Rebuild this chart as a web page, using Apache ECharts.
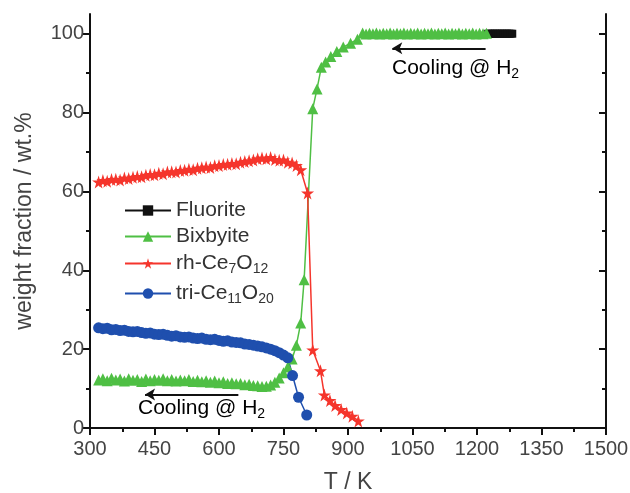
<!DOCTYPE html>
<html>
<head>
<meta charset="utf-8">
<script src="https://cdn.jsdelivr.net/npm/echarts@6/dist/echarts.min.js"></script>
<style>
  html, body { margin: 0; padding: 0; background: #fff; }
  #main { width: 630px; height: 493px; }
</style>
</head>
<body>
<div id="main"></div>
<script>
// temperatures (K) of the dense cooling scans
var coolT = [320,330,340,350,360,370,380,390,400,410,420,430,440,450,460,470,480,490,500,510,
  520,530,540,550,560,570,580,590,600,610,620,630,640,650,660,670,680,690,700,710,
  720,730,740,750,760,770,780,790];

var redCool = [62.4,62.8,62.6,63.0,63.1,62.9,63.4,63.3,63.6,63.8,
  63.7,64.1,64.3,64.2,64.6,64.5,64.9,65.0,64.9,65.3,
  65.4,65.6,65.5,65.9,66.0,66.2,66.1,66.5,66.6,66.8,
  66.9,67.1,67.0,67.4,67.6,67.8,68.0,68.3,68.5,68.3,
  68.6,68.1,67.9,68.0,67.4,67.2,66.6,65.5];
var redTailT = [806,818,836,845,858,870,884,897,910,924];
var redTail = [59.6,19.8,14.5,8.4,7.0,5.7,4.7,3.8,3.0,1.8];

var greenCool = [12.2,12.5,12.0,12.6,12.2,12.4,11.9,12.5,12.1,12.3,
  11.8,12.4,12.0,12.3,12.1,12.5,12.0,12.3,11.9,12.2,
  12.0,12.3,11.8,12.1,11.7,12.0,11.6,11.9,11.5,11.7,
  11.3,11.5,11.2,11.3,11.0,11.1,10.8,10.7,10.5,10.6,
  10.9,11.6,12.7,14.0,15.5,17.5,21.0,26.6];
var greenRiseT = [798,818,828,838,848,860,874,889,906,922];
var greenRise = [37.6,81.0,86.0,91.5,92.8,94.2,95.5,96.6,97.6,98.6];
var plateauT = [934,942,950,958,966,974,982,990,998,1006,1014,1022,1030,1038,1046,1054,1062,1070,
  1078,1086,1094,1102,1110,1118,1126,1134,1142,1150,1158,1166,1174,1182,1190,1198,1206,1214,1222];
var plateau = [100.2,99.9,100.1,100.0,100.2,99.9,100.1,100.0,100.2,99.9,100.1,100.0,100.2,99.9,100.1,100.0,100.2,99.9,
  100.1,100.0,100.2,99.9,100.1,100.0,100.2,99.9,100.1,100.0,100.2,99.9,100.1,100.0,100.2,99.9,100.1,100.0,100.1];

var blueT = [320,330,340,350,360,370,380,390,400,410,420,430,440,450,460,470,480,490,500,510,
  520,530,540,550,560,570,580,590,600,610,620,630,640,650,660,670,680,690,700,710,
  720,730,740,750,760,771,785,804];
var blue = [25.4,25.2,25.3,24.9,25.0,24.7,24.8,24.5,24.4,24.5,
  24.2,24.0,24.1,23.8,23.7,23.8,23.5,23.3,23.4,23.1,
  23.0,23.1,22.8,22.7,22.8,22.5,22.4,22.5,22.2,22.0,
  22.1,21.8,21.7,21.6,21.3,21.2,21.0,20.8,20.6,20.3,
  20.0,19.6,19.1,18.5,17.8,13.3,7.8,3.3];

var fluoriteT = [1226,1230,1234,1238,1242,1246,1250,1254,1258,1262,1266,1270,1274,1278,1282];
var fluorite = [100,100,100,100,100,100,100,100,100,100,100,100,100,100,100];

var yMajor = [0,20,40,60,80,100];
var yMinor = [10,30,50,70,90];

function zip(xs, ys) {
  return xs.map(function (x, i) { return [x, ys[i]]; });
}

var star = 'path://M50,0 L61,35 L98,35 L68,57 L79,91 L50,70 L21,91 L32,57 L2,35 L39,35 Z';
var FONT = 'Liberation Sans';
var GREEN = '#4fbf44', RED = '#f5352c', BLUE = '#1f4fae';

var rich = {
  b: { fontSize: 21, fontFamily: FONT, color: '#333', lineHeight: 26 },
  s: { fontSize: 14, fontFamily: FONT, color: '#333', lineHeight: 10, verticalAlign: 'bottom' }
};
var legendNames = {
  'Fluorite': '{b|Fluorite}',
  'Bixbyite': '{b|Bixbyite}',
  'rh-Ce7O12': '{b|rh-Ce}{s|7}{b|O}{s|12}',
  'tri-Ce11O20': '{b|tri-Ce}{s|11}{b|O}{s|20}'
};
function legendAt(name, top) {
  return {
    data: [name], left: 124, top: top, orient: 'vertical',
    itemWidth: 46, itemHeight: 13, itemGap: 0, padding: 0,
    formatter: function (n) { return legendNames[n]; },
    textStyle: { rich: rich }, selectedMode: false
  };
}

var axisLine = { show: true, lineStyle: { color: '#111', width: 2 } };
function yAxisDef(pos, vals, len, inside, withLine) {
  return {
    type: 'value', min: 0, max: 105, position: pos, gridIndex: 0,
    axisLine: withLine ? axisLine : { show: false },
    axisTick: { show: true, customValues: vals, length: len, inside: inside, lineStyle: { color: '#111', width: 2 } },
    axisLabel: { show: false }, splitLine: { show: false }
  };
}
function plain(v) { return String(v); }

var chart = echarts.init(document.getElementById('main'));
var y0 = yAxisDef('left', yMajor, 7, false, true);
y0.axisLabel = { show: true, customValues: yMajor, fontSize: 20, fontFamily: FONT, color: '#444', margin: 6, formatter: plain };
y0.name = 'weight fraction / wt.%';
y0.nameLocation = 'middle';
y0.nameGap = 54;
y0.nameTextStyle = { fontSize: 23, fontFamily: FONT, color: '#444' };

chart.setOption({
  animation: false,
  grid: { left: 90, right: 24, top: 14, bottom: 65, outerBoundsMode: 'none' },
  legend: [
    legendAt('Fluorite', 200),
    legendAt('Bixbyite', 226),
    legendAt('rh-Ce7O12', 253),
    legendAt('tri-Ce11O20', 283)
  ],
  xAxis: [{
    type: 'value', min: 300, max: 1500, interval: 150, position: 'bottom',
    axisLine: axisLine,
    axisTick: { length: 7, lineStyle: { color: '#111', width: 2 } },
    minorTick: { show: true, splitNumber: 2, length: 4, lineStyle: { color: '#111', width: 2 } },
    axisLabel: { fontSize: 20, fontFamily: FONT, color: '#444', margin: 11, formatter: plain },
    splitLine: { show: false },
    name: 'T / K', nameLocation: 'middle', nameGap: 43,
    nameTextStyle: { fontSize: 23, fontFamily: FONT, color: '#444' }
  }, {
    type: 'value', min: 300, max: 1500, interval: 150, position: 'top',
    axisLine: axisLine,
    axisTick: { length: 7, inside: true, lineStyle: { color: '#111', width: 2 } },
    minorTick: { show: true, splitNumber: 2, length: 4, lineStyle: { color: '#111', width: 2 } },
    axisLabel: { show: false }, splitLine: { show: false }
  }],
  yAxis: [
    y0,
    yAxisDef('left', yMinor, 4, false, false),
    yAxisDef('right', yMajor, 7, true, true),
    yAxisDef('right', yMinor, 4, true, false)
  ],
  graphic: [{
    type: 'text', left: 392, top: 58,
    style: { text: '{b|Cooling @ H}{s|2}', rich: rich }
  }, {
    type: 'text', left: 138, top: 398,
    style: { text: '{b|Cooling @ H}{s|2}', rich: rich }
  }],
  series: [{
    name: 'Fluorite', type: 'line', data: zip(fluoriteT, fluorite),
    symbol: 'rect', symbolSize: 8, itemStyle: { color: '#111' },
    lineStyle: { color: '#111', width: 1.5 },
    markLine: {
      silent: true, symbol: ['none', 'arrow'], symbolSize: [9, 10],
      label: { show: false },
      lineStyle: { color: '#111', width: 2, type: 'solid' },
      data: [
        [{ coord: [1220, 96.3] }, { coord: [1003, 96.3] }],
        [{ coord: [645, 8.5] }, { coord: [428, 8.5] }]
      ]
    }
  }, {
    name: 'Bixbyite', type: 'line',
    data: zip(coolT, greenCool).concat(zip(greenRiseT, greenRise), zip(plateauT, plateau)),
    symbol: 'triangle', symbolSize: 11, itemStyle: { color: GREEN },
    lineStyle: { color: GREEN, width: 1.5 }
  }, {
    name: 'rh-Ce7O12', type: 'line',
    data: zip(coolT, redCool).concat(zip(redTailT, redTail)),
    symbol: star, symbolSize: 13, itemStyle: { color: RED },
    lineStyle: { color: RED, width: 1.5 }
  }, {
    name: 'tri-Ce11O20', type: 'line', data: zip(blueT, blue),
    symbol: 'circle', symbolSize: 11, itemStyle: { color: BLUE },
    lineStyle: { color: BLUE, width: 1.5 }
  }]
});
</script>
</body>
</html>
